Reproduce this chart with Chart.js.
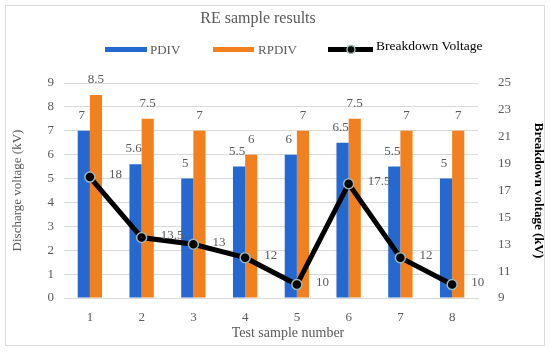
<!DOCTYPE html>
<html><head><meta charset="utf-8">
<script src="https://cdn.jsdelivr.net/npm/chart.js@4"></script>
<style>html,body{margin:0;padding:0;background:#fff}#wrap{width:550px;height:353px}</style>
</head><body><div id="wrap"><canvas id="c" width="550" height="353"></canvas></div>
<script>
const categories = ['1','2','3','4','5','6','7','8'];
const pdiv = [7, 5.6, 5, 5.5, 6, 6.5, 5.5, 5];
const rpdiv = [8.5, 7.5, 7, 6, 7, 7.5, 7, 7];
const breakdown = [18, 13.5, 13, 12, 10, 17.5, 12, 10];

const FONT = "'Liberation Serif', 'DejaVu Serif', serif";
const GRAY = '#595959';
const BLUE = '#2468D0';
const ORANGE = '#F2801F';

const decor = {
  id: 'decor',
  beforeDraw(chart) {
    const ctx = chart.ctx;
    ctx.save();
    ctx.fillStyle = '#fff';
    ctx.fillRect(0, 0, chart.width, chart.height);
    ctx.strokeStyle = '#D9D9D9';
    ctx.lineWidth = 1;
    ctx.strokeRect(5.5, 5.5, 539, 340);
    ctx.restore();
  },
  afterDraw(chart) {
    const ctx = chart.ctx;
    ctx.save();
    // title
    ctx.fillStyle = GRAY;
    ctx.font = '16px ' + FONT;
    ctx.textAlign = 'center';
    ctx.textBaseline = 'middle';
    ctx.fillText('RE sample results', 258, 19);
    // x axis title
    ctx.font = '14px ' + FONT;
    ctx.fillText('Test sample number', 288, 333);
    // legend
    ctx.font = '13px ' + FONT;
    ctx.textAlign = 'left';
    ctx.fillStyle = BLUE;
    ctx.fillRect(105, 47, 42, 5);
    ctx.fillStyle = GRAY;
    ctx.fillText('PDIV', 150, 51);
    ctx.fillStyle = ORANGE;
    ctx.fillRect(213, 47, 41, 5);
    ctx.fillStyle = GRAY;
    ctx.fillText('RPDIV', 258, 51);
    ctx.strokeStyle = '#000';
    ctx.lineWidth = 5;
    ctx.beginPath(); ctx.moveTo(328, 49.5); ctx.lineTo(373, 49.5); ctx.stroke();
    ctx.beginPath(); ctx.arc(351, 49.5, 4, 0, Math.PI * 2);
    ctx.fillStyle = '#000'; ctx.fill();
    ctx.strokeStyle = '#9DB5B5'; ctx.lineWidth = 1.5; ctx.stroke();
    ctx.fillStyle = '#000';
    ctx.font = '13.5px ' + FONT;
    ctx.fillText('Breakdown Voltage', 376, 46);

    // data labels
    ctx.font = '13px ' + FONT;
    ctx.fillStyle = GRAY;
    ctx.textAlign = 'center';
    ctx.textBaseline = 'alphabetic';
    [0, 1].forEach(di => {
      const meta = chart.getDatasetMeta(di);
      const data = chart.data.datasets[di].data;
      meta.data.forEach((el, i) => {
        const dx = di === 0 ? -2 : 0;
        ctx.fillText(String(data[i]), el.x + dx, el.y - 12);
      });
    });
    const lm = chart.getDatasetMeta(2);
    const ld = chart.data.datasets[2].data;
    ctx.textAlign = 'left';
    ctx.textBaseline = 'middle';
    lm.data.forEach((el, i) => {
      ctx.fillText(String(ld[i]), el.x + 19, el.y - 2);
    });
    ctx.restore();
  }
};

new Chart(document.getElementById('c'), {
  data: {
    labels: categories,
    datasets: [
      { type: 'bar', label: 'PDIV', data: pdiv, backgroundColor: BLUE, yAxisID: 'y', order: 2,
        barPercentage: 1, categoryPercentage: 0.47 },
      { type: 'bar', label: 'RPDIV', data: rpdiv, backgroundColor: ORANGE, yAxisID: 'y', order: 2,
        barPercentage: 1, categoryPercentage: 0.47 },
      { type: 'line', label: 'Breakdown Voltage', data: breakdown, yAxisID: 'y1', order: 1,
        borderColor: '#000', borderWidth: 5, pointRadius: 5, pointBackgroundColor: '#000',
        pointBorderColor: '#9DB5B5', pointBorderWidth: 1.5, tension: 0, fill: false }
    ]
  },
  options: {
    responsive: false,
    animation: false,
    devicePixelRatio: 1,
    layout: { padding: { top: 83, left: 0, right: 0, bottom: 0 } },
    plugins: { legend: { display: false }, title: { display: false }, tooltip: { enabled: false } },
    scales: {
      x: {
        grid: { display: false },
        border: { display: true, color: '#D9D9D9' },
        ticks: { color: GRAY, font: { family: FONT, size: 13 }, padding: 4 },
        afterFit(s) { s.height = 55; }
      },
      y: {
        position: 'left', min: 0, max: 9,
        ticks: { stepSize: 1, color: GRAY, font: { family: FONT, size: 13 }, padding: 10 },
        grid: { color: '#D9D9D9', drawTicks: false },
        border: { display: false },
        title: { display: true, text: 'Discharge voltage (kV)', color: GRAY, font: { family: FONT, size: 13 }, padding: { top: 10, bottom: 0 } },
        afterFit(s) { s.width = 64; }
      },
      y1: {
        position: 'right', min: 9, max: 25,
        ticks: { stepSize: 2, color: GRAY, font: { family: FONT, size: 13 }, padding: 12 },
        grid: { display: false },
        border: { display: false },
        title: { display: true, text: 'Breakdown voltage (kV)', color: '#000', font: { family: FONT, size: 13, weight: 'bold' } },
        afterFit(s) { s.width = 72; }
      }
    }
  },
  plugins: [decor]
});
</script></body></html>
